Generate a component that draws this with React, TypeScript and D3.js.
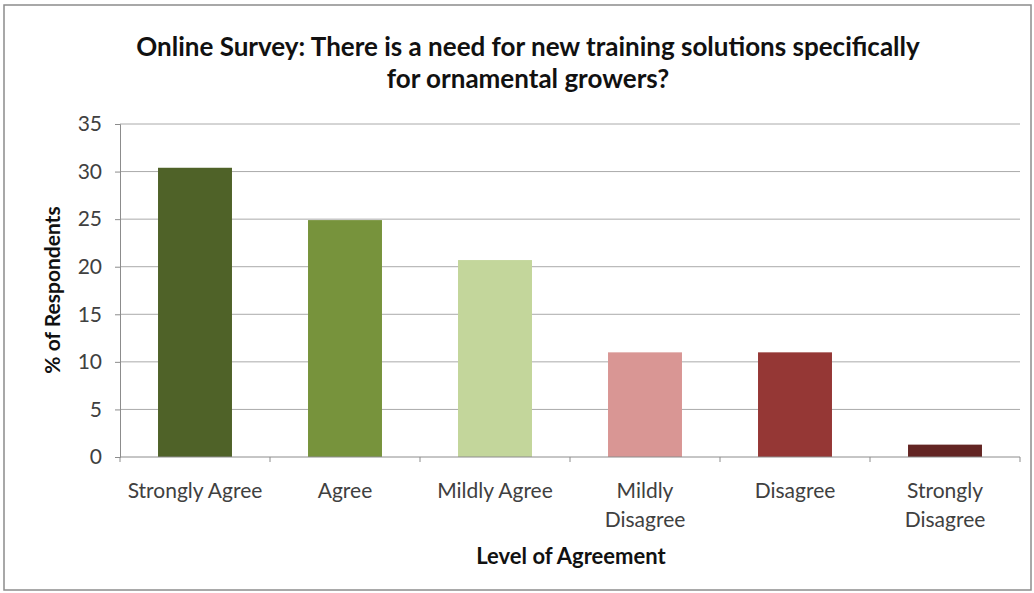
import {useEffect, useRef} from "react";
import * as d3 from "d3";

const SvgWidth = 1034;
const SvgHeight = 593;

// data
const categories = ["Strongly Agree", "Agree", "Mildly Agree", "Mildly Disagree", "Disagree", "Strongly Disagree"];
const categoryLines = [["Strongly Agree"], ["Agree"], ["Mildly Agree"], ["Mildly", "Disagree"], ["Disagree"], ["Strongly", "Disagree"]];
const values = [30.4, 24.9, 20.7, 11.0, 11.0, 1.3];
const barColors = ["#4f6228", "#77933c", "#c3d69b", "#d99694", "#953735", "#632523"];
const yTicks = [0, 5, 10, 15, 20, 25, 30, 35];

const titleLines = ["Online Survey: There is a need for new training solutions specifically", "for ornamental growers?"];
const yLabel = "% of Respondents";
const xLabel = "Level of Agreement";

const fontFamily = "Lato, 'Open Sans', sans-serif";

function App(){
    const xAxisRef = useRef(null);
    const yAxisRef = useRef(null);

    let left = 120;
    let right = 1020;
    let top = 124;
    let bottom = 457;

    const xScale = d3.scaleBand()
        .domain(categories)
        .range([left, right])
        .paddingInner(0.507)
        .paddingOuter(0.2535);

    const yScale = d3.scaleLinear()
        .domain([0, 35])
        .range([bottom, top]);

    useEffect(() => {
        let xAxisElm = d3.select(xAxisRef.current);
        let yAxisElm = d3.select(yAxisRef.current);

        if(yAxisElm){
            yAxisElm.call(d3.axisLeft(yScale).tickValues(yTicks).tickSize(5).tickPadding(13))
            yAxisElm.select(".domain").attr("stroke", "#8c8c8c")
            yAxisElm.selectAll(".tick line").attr("stroke", "#8c8c8c")
            yAxisElm.selectAll(".tick text")
                .attr("font-family", fontFamily)
                .attr("font-size", 21)
                .attr("fill", "#404040")
        }

        if(xAxisElm){
            // ticks sit on category boundaries, like Excel
            const step = xScale.step();
            const bounds = d3.range(categories.length + 1).map(i => left + i * step);
            xAxisElm.selectAll("*").remove();
            xAxisElm.append("line")
                .attr("x1", left).attr("x2", right)
                .attr("y1", 0).attr("y2", 0)
                .attr("stroke", "#8c8c8c")
            xAxisElm.selectAll(".btick")
                .data(bounds)
                .join("line")
                .attr("class", "btick")
                .attr("x1", d => d).attr("x2", d => d)
                .attr("y1", 0).attr("y2", 5)
                .attr("stroke", "#8c8c8c")
        }
    }, [xScale, yScale])

    return (
        <div>
            <svg width={SvgWidth} height={SvgHeight} style={{position: "absolute", left: 0, top: 0}}>
                <rect x={0} y={0} width={SvgWidth} height={SvgHeight} fill="#ffffff"></rect>
                <rect x={4} y={5} width={1027} height={585} fill="none" stroke="#8c8c8c" strokeWidth={1.5}></rect>

                {titleLines.map((t, i) => (
                    <text key={i} x={528} y={56 + i * 32} textAnchor="middle"
                          fontFamily={fontFamily} fontSize={26} fontWeight="bold" fill="#111">
                        {t}
                    </text>
                ))}

                {yTicks.filter(t => t > 0).map(t => (
                    <line key={t} x1={left} x2={right} y1={yScale(t)} y2={yScale(t)}
                          stroke="#aaaaaa" strokeWidth={1}></line>
                ))}

                {categories.map((c, i) => (
                    <rect key={c}
                          x={xScale(c)}
                          y={yScale(values[i])}
                          width={xScale.bandwidth()}
                          height={yScale(0) - yScale(values[i])}
                          fill={barColors[i]}
                    ></rect>
                ))}

                <g ref={yAxisRef} transform={`translate(${left}, 0)`}></g>
                <g ref={xAxisRef} transform={`translate(0, ${bottom})`}></g>

                {categories.map((c, i) => (
                    <text key={c} x={xScale(c) + xScale.bandwidth() / 2} y={498} textAnchor="middle"
                          fontFamily={fontFamily} fontSize={21} fill="#404040">
                        {categoryLines[i].map((line, j) => (
                            <tspan key={j} x={xScale(c) + xScale.bandwidth() / 2} dy={j === 0 ? 0 : 29}>{line}</tspan>
                        ))}
                    </text>
                ))}

                <text x={571} y={564} textAnchor="middle" fontFamily={fontFamily}
                      fontSize={22} fontWeight="bold" fill="#111">
                    {xLabel}
                </text>

                <text transform={"translate(60, 290) rotate(-90)"} textAnchor="middle" fontFamily={fontFamily}
                      fontSize={21} fontWeight="bold" fill="#111">
                    {yLabel}
                </text>
            </svg>
        </div>
    )
}

export default App;
